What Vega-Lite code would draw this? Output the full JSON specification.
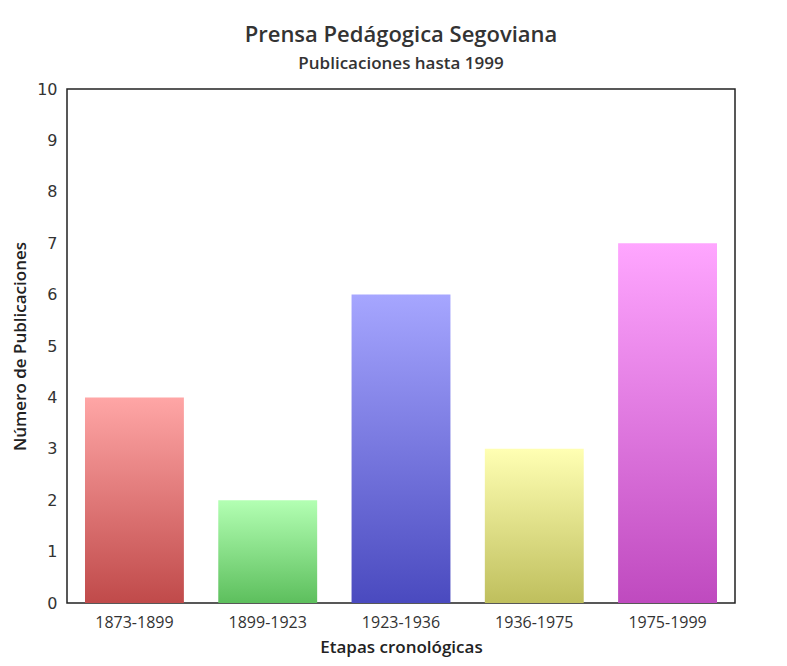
{
  "$schema": "https://vega.github.io/schema/vega-lite/v6.json",
  "width": 668,
  "height": 514,
  "autosize": {"type": "none"},
  "padding": {"left": 67, "top": 89, "right": 52, "bottom": 63},
  "background": "white",
  "title": {
    "text": "Prensa Pedágogica Segoviana",
    "subtitle": "Publicaciones hasta 1999",
    "anchor": "middle",
    "frame": "group",
    "font": "Open Sans",
    "fontSize": 22,
    "fontWeight": 600,
    "color": "#333333",
    "subtitleFont": "Open Sans",
    "subtitleFontSize": 17,
    "subtitleFontWeight": 600,
    "subtitleColor": "#333333",
    "subtitlePadding": 9,
    "offset": 8
  },
  "data": {
    "values": [
      {"etapa": "1873-1899", "n": 4},
      {"etapa": "1899-1923", "n": 2},
      {"etapa": "1923-1936", "n": 6},
      {"etapa": "1936-1975", "n": 3},
      {"etapa": "1975-1999", "n": 7}
    ]
  },
  "encoding": {
    "x": {
      "field": "etapa",
      "type": "nominal",
      "sort": ["1873-1899", "1899-1923", "1923-1936", "1936-1975", "1975-1999"],
      "scale": {"paddingInner": 0.258, "paddingOuter": 0.135},
      "axis": {
        "title": "Etapas cronológicas",
        "labelAngle": 0,
        "ticks": false,
        "domain": false,
        "labelPadding": 11,
        "labelFont": "Open Sans",
        "labelFontSize": 16,
        "labelColor": "#333333",
        "titleFont": "Open Sans",
        "titleFontSize": 17,
        "titleFontWeight": 600,
        "titleColor": "#222222",
        "titlePadding": 9
      }
    },
    "y": {
      "field": "n",
      "type": "quantitative",
      "scale": {"domain": [0, 10], "nice": false},
      "axis": {
        "title": "Número de Publicaciones",
        "values": [0, 1, 2, 3, 4, 5, 6, 7, 8, 9, 10],
        "grid": false,
        "ticks": false,
        "domain": false,
        "labelPadding": 10,
        "labelFont": "DejaVu Sans",
        "labelFontSize": 16,
        "labelColor": "#333333",
        "titleFont": "Open Sans",
        "titleFontSize": 17,
        "titleFontWeight": 600,
        "titleColor": "#222222",
        "titlePadding": 7
      }
    }
  },
  "layer": [
    {
      "transform": [{"filter": "datum.etapa === '1873-1899'"}],
      "mark": {"type": "bar", "color": {"gradient": "linear", "x1": 0, "y1": 0, "x2": 0, "y2": 1, "stops": [{"offset": 0, "color": "#ffa6a6"}, {"offset": 1, "color": "#c04a4a"}]}}
    },
    {
      "transform": [{"filter": "datum.etapa === '1899-1923'"}],
      "mark": {"type": "bar", "color": {"gradient": "linear", "x1": 0, "y1": 0, "x2": 0, "y2": 1, "stops": [{"offset": 0, "color": "#b3ffb3"}, {"offset": 1, "color": "#5dbf5d"}]}}
    },
    {
      "transform": [{"filter": "datum.etapa === '1923-1936'"}],
      "mark": {"type": "bar", "color": {"gradient": "linear", "x1": 0, "y1": 0, "x2": 0, "y2": 1, "stops": [{"offset": 0, "color": "#a6a6ff"}, {"offset": 1, "color": "#4a4abf"}]}}
    },
    {
      "transform": [{"filter": "datum.etapa === '1936-1975'"}],
      "mark": {"type": "bar", "color": {"gradient": "linear", "x1": 0, "y1": 0, "x2": 0, "y2": 1, "stops": [{"offset": 0, "color": "#ffffb3"}, {"offset": 1, "color": "#bfbf5d"}]}}
    },
    {
      "transform": [{"filter": "datum.etapa === '1975-1999'"}],
      "mark": {"type": "bar", "color": {"gradient": "linear", "x1": 0, "y1": 0, "x2": 0, "y2": 1, "stops": [{"offset": 0, "color": "#ffa6ff"}, {"offset": 1, "color": "#bf4abf"}]}}
    }
  ],
  "config": {
    "view": {"stroke": "#222222", "strokeWidth": 1.5}
  }
}
